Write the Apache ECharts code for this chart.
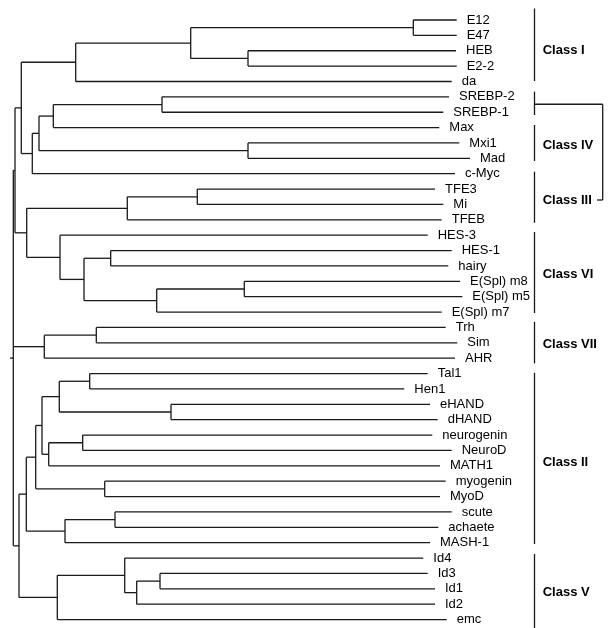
<!DOCTYPE html>
<html><head><meta charset="utf-8">
<script src="https://cdn.jsdelivr.net/npm/echarts@6/dist/echarts.min.js"></script>
<style>html,body{margin:0;padding:0;background:#fff}#c{width:612px;height:628px}</style>
</head><body><div id="c"></div>
<script>
// ---- leaves (top to bottom) and their branch-tip distances ----
const leaves = ['E12','E47','HEB','E2-2','da','SREBP-2','SREBP-1','Max','Mxi1','Mad','c-Myc','TFE3','Mi','TFEB','HES-3','HES-1','hairy','E(Spl) m8','E(Spl) m5','E(Spl) m7','Trh','Sim','AHR','Tal1','Hen1','eHAND','dHAND','neurogenin','NeuroD','MATH1','myogenin','MyoD','scute','achaete','MASH-1','Id4','Id3','Id1','Id2','emc'];
const leafTip = [446.7,446.7,446,446.7,441.7,439,433.3,429.3,449.3,460,445,425,433.3,431.7,417.7,441.7,438.3,450,452.3,431.7,435.7,447.3,445,417.7,394.3,420,427.7,422.3,441.7,430,435.7,430,441.7,428.3,420,413.3,417.7,425,425,436.7];

// ---- internal nodes (children before parents) ----
const nodeNames = ['E12E47','HEBE22','I1','ClassI','SREBP','M2','MxiMad','M1','Myc','A1','TFE3Mi','III','HesHairy','m8m5','V2','V1','VI','A2','A','TrhSim','VII','TalHen','eHdH','C1','NgNd','C3','C2','MyoG','C4','ScAc','AS','II','Id31','Id2n','Id','V','B','root'];
const nodeChildren = [
  ['E12','E47'],['HEB','E2-2'],['E12E47','HEBE22'],['I1','da'],
  ['SREBP-2','SREBP-1'],['SREBP','Max'],['Mxi1','Mad'],['M2','MxiMad'],['M1','c-Myc'],['ClassI','Myc'],
  ['TFE3','Mi'],['TFE3Mi','TFEB'],['HES-1','hairy'],['E(Spl) m8','E(Spl) m5'],['m8m5','E(Spl) m7'],['HesHairy','V2'],['HES-3','V1'],['III','VI'],
  ['A1','A2'],
  ['Trh','Sim'],['TrhSim','AHR'],
  ['Tal1','Hen1'],['eHAND','dHAND'],['TalHen','eHdH'],['neurogenin','NeuroD'],['NgNd','MATH1'],['C1','C3'],['myogenin','MyoD'],['C2','MyoG'],['scute','achaete'],['ScAc','MASH-1'],['C4','AS'],
  ['Id3','Id1'],['Id31','Id2'],['Id4','Id2n'],['Id','emc'],
  ['II','V'],
  ['A','VII','B']
];
const nodeDist = [403.3,238,180.7,65.7,152,43.3,238,29,22.3,11.3,187.3,117.3,100.7,234.3,146.7,74,50,16.7,5,86.3,34.3,79.7,161,49.3,72.7,38.7,32,94.7,25.7,105,55,16.3,150,126.7,114.7,47.3,9,3.3];
const rootStubStart = 0;

// ---- class brackets (in leaf-row units) ----
const classNames   = ['Class I','','Class IV','Class III','Class VI','Class VII','Class II','Class V'];
const bracketStart = [-0.75,4.66,6.83,9.87,13.79,19.63,22.95,34.74];
const bracketEnd   = [3.97,6.18,9.17,13.19,19.06,22.34,34.09,39.56];
const classLabelRow = [1.95,null,8.18,11.71,16.53,21.08,28.8,37.26];
const bracketX = 524.5, classLabelX = 532.7;
const connectorFromRow = 5.48, connectorToRow = 11.71, connectorX = 592.7, connectorEndX = 587;
const labelGap = 10;

// ---- build geometry ----
const pos = {};
leaves.forEach((n,i)=>{ pos[n] = [leafTip[i], i]; });
const segs = [];
nodeNames.forEach((n,k)=>{
  const ys = nodeChildren[k].map(c=>pos[c][1]);
  const lo = Math.min(...ys), hi = Math.max(...ys);
  pos[n] = [nodeDist[k], (lo+hi)/2];
  segs.push([nodeDist[k], lo, nodeDist[k], hi]);
  nodeChildren[k].forEach(c=>segs.push([nodeDist[k], pos[c][1], pos[c][0], pos[c][1]]));
});
segs.push([rootStubStart, pos.root[1], pos.root[0], pos.root[1]]);
bracketStart.forEach((s,i)=>segs.push([bracketX, s, bracketX, bracketEnd[i]]));
segs.push([bracketX, connectorFromRow, connectorX, connectorFromRow]);
segs.push([connectorX, connectorFromRow, connectorX, connectorToRow]);
segs.push([connectorEndX, connectorToRow, connectorX, connectorToRow]);

const leafText = leaves.map((n,i)=>[leafTip[i]+labelGap, i]);
const classText = [], classTextNames = [];
classNames.forEach((c,i)=>{ if(c){ classText.push([classLabelX, classLabelRow[i]]); classTextNames.push(c);} });

const chart = echarts.init(document.getElementById('c'), null, {renderer:'canvas'});
chart.setOption({
  animation:false,
  backgroundColor:'#fff',
  grid:{left:10,right:2,top:0,bottom:0},
  xAxis:{type:'value',min:0,max:600,show:false},
  yAxis:{type:'value',inverse:true,min:-1.3,max:39.55,show:false},
  series:[
    {type:'custom',data:segs,encode:{x:[0,2],y:[1,3]},clip:false,
     renderItem:(p,api)=>{
       const a=api.coord([api.value(0),api.value(1)]), b=api.coord([api.value(2),api.value(3)]);
       return {type:'line',shape:{x1:a[0],y1:a[1],x2:b[0],y2:b[1]},style:{stroke:'#1a1a1a',lineWidth:1.3}};
     }},
    {type:'custom',data:leafText,encode:{x:0,y:1},clip:false,
     renderItem:(p,api)=>{
       const a=api.coord([api.value(0),api.value(1)]);
       return {type:'text',x:a[0],y:a[1],style:{text:leaves[p.dataIndex],fill:'#000',font:'13px "Liberation Sans", Arial, sans-serif',align:'left',verticalAlign:'middle'}};
     }},
    {type:'custom',data:classText,encode:{x:0,y:1},clip:false,
     renderItem:(p,api)=>{
       const a=api.coord([api.value(0),api.value(1)]);
       return {type:'text',x:a[0],y:a[1],style:{text:classTextNames[p.dataIndex],fill:'#000',font:'bold 13px "Liberation Sans", Arial, sans-serif',align:'left',verticalAlign:'middle'}};
     }}
  ]
});
</script></body></html>
